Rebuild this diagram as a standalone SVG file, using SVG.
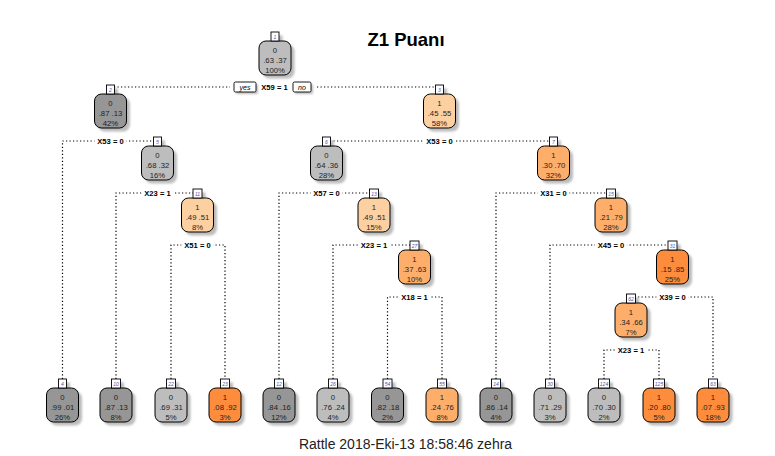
<svg xmlns="http://www.w3.org/2000/svg" width="775" height="456" viewBox="0 0 775 456">
<defs>
<filter id="blur" x="-20%" y="-20%" width="140%" height="140%"><feGaussianBlur stdDeviation="0.8"/></filter>
</defs>
<style>
text{font-family:"Liberation Sans",Arial,sans-serif}
.ln{fill:none;stroke:#000;stroke-width:1.2;stroke-dasharray:1.2 2.3}
.sh{fill:#bcbcbc;filter:url(#blur)}
.bd{stroke:#000;stroke-width:1}
.g1{fill:#969696}.g2{fill:#bdbdbd}.o1{fill:#fdd0a2}.o2{fill:#fdae6b}.o3{fill:#fd8d3c}
.lb{fill:#fff;stroke:#000;stroke-width:0.9}
.t{font-size:7.7px;fill:#1e1e1e;text-anchor:middle}
.n{font-size:5px;fill:#5050b0;text-anchor:middle;font-style:italic}
.sp{font-size:7.6px;font-weight:bold;fill:#000;text-anchor:middle}
.wb{fill:#fff}
.yn{font-size:7px;font-style:italic;fill:#000;text-anchor:middle}
</style>
<rect width="775" height="456" fill="#fff"/>
<text x="406" y="46" font-size="18.5" font-weight="bold" text-anchor="middle" fill="#000">Z1 Puanı</text>
<text x="405.5" y="449" font-size="14" text-anchor="middle" fill="#222">Rattle 2018-Eki-13 18:58:46 zehra</text>

<g id="connectors">
<path class="ln" d="M110.5 87H439.5"/>
<path class="ln" d="M62.5 379V141H157.5"/>
<path class="ln" d="M116 379V193H197.5"/>
<path class="ln" d="M171 379V245H225V379"/>
<path class="ln" d="M326.5 141H553.5"/>
<path class="ln" d="M279 379V193H374"/>
<path class="ln" d="M333 379V245H414.5"/>
<path class="ln" d="M387.5 379V297H442V379"/>
<path class="ln" d="M496 379V193H611"/>
<path class="ln" d="M550 379V245H672.5"/>
<path class="ln" d="M631 297H713V379"/>
<path class="ln" d="M604 379V350H659V379"/>
<g id="split-labels">
<rect class="wb" x="230" y="81" width="85" height="12"/>
<rect class="sh" x="236" y="84" width="22" height="10" rx="1.5"/>
<rect class="lb" x="234" y="82" width="22" height="10" rx="1.5"/>
<text class="yn" x="245" y="89.7">yes</text>
<text class="sp" x="274.5" y="90">X59 = 1</text>
<rect class="sh" x="295" y="84" width="18" height="10" rx="1.5"/>
<rect class="lb" x="293" y="82" width="18" height="10" rx="1.5"/>
<text class="yn" x="302" y="89.7">no</text>
<rect class="wb" x="94.5" y="137" width="32" height="8"/><text class="sp" x="110.5" y="144">X53 = 0</text>
<rect class="wb" x="141.5" y="189" width="32" height="8"/><text class="sp" x="157.5" y="196">X23 = 1</text>
<rect class="wb" x="181.5" y="241" width="32" height="8"/><text class="sp" x="197.5" y="248">X51 = 0</text>
<rect class="wb" x="423.5" y="137" width="32" height="8"/><text class="sp" x="439.5" y="144">X53 = 0</text>
<rect class="wb" x="310.5" y="189" width="32" height="8"/><text class="sp" x="326.5" y="196">X57 = 0</text>
<rect class="wb" x="358" y="241" width="32" height="8"/><text class="sp" x="374" y="248">X23 = 1</text>
<rect class="wb" x="398.5" y="293" width="32" height="8"/><text class="sp" x="414.5" y="300">X18 = 1</text>
<rect class="wb" x="537.5" y="189" width="32" height="8"/><text class="sp" x="553.5" y="196">X31 = 0</text>
<rect class="wb" x="595" y="241" width="32" height="8"/><text class="sp" x="611" y="248">X45 = 0</text>
<rect class="wb" x="656.5" y="293" width="32" height="8"/><text class="sp" x="672.5" y="300">X39 = 0</text>
<rect class="wb" x="615" y="346" width="32" height="8"/><text class="sp" x="631" y="353">X23 = 1</text>
</g>
</g>

<g id="node1"><rect class="sh" x="262.5" y="44.5" width="32" height="34" rx="7"/><rect class="sh" x="274.5" y="35.5" width="8" height="9"/><rect class="bd g2" x="259" y="41" width="32" height="34" rx="7"/><rect class="lb" x="271" y="32" width="8" height="9"/><text class="n" x="275" y="38.8">1</text><text class="t" x="275" y="52.5">0</text><text class="t" x="275" y="62.5">.63 .37</text><text class="t" x="275" y="72.5">100%</text></g>
<g id="node2"><rect class="sh" x="98" y="97.5" width="32" height="34" rx="7"/><rect class="sh" x="110" y="88.5" width="8" height="9"/><rect class="bd g1" x="94.5" y="94" width="32" height="34" rx="7"/><rect class="lb" x="106.5" y="85" width="8" height="9"/><text class="n" x="110.5" y="91.8">2</text><text class="t" x="110.5" y="105.5">0</text><text class="t" x="110.5" y="115.5">.87 .13</text><text class="t" x="110.5" y="125.5">42%</text></g>
<g id="node3"><rect class="sh" x="427" y="97.5" width="32" height="34" rx="7"/><rect class="sh" x="439" y="88.5" width="8" height="9"/><rect class="bd o1" x="423.5" y="94" width="32" height="34" rx="7"/><rect class="lb" x="435.5" y="85" width="8" height="9"/><text class="n" x="439.5" y="91.8">3</text><text class="t" x="439.5" y="105.5">1</text><text class="t" x="439.5" y="115.5">.45 .55</text><text class="t" x="439.5" y="125.5">58%</text></g>
<g id="node5"><rect class="sh" x="145" y="149.5" width="32" height="34" rx="7"/><rect class="sh" x="157" y="140.5" width="8" height="9"/><rect class="bd g2" x="141.5" y="146" width="32" height="34" rx="7"/><rect class="lb" x="153.5" y="137" width="8" height="9"/><text class="n" x="157.5" y="143.8">5</text><text class="t" x="157.5" y="157.5">0</text><text class="t" x="157.5" y="167.5">.68 .32</text><text class="t" x="157.5" y="177.5">16%</text></g>
<g id="node6"><rect class="sh" x="314" y="149.5" width="32" height="34" rx="7"/><rect class="sh" x="326" y="140.5" width="8" height="9"/><rect class="bd g2" x="310.5" y="146" width="32" height="34" rx="7"/><rect class="lb" x="322.5" y="137" width="8" height="9"/><text class="n" x="326.5" y="143.8">6</text><text class="t" x="326.5" y="157.5">0</text><text class="t" x="326.5" y="167.5">.64 .36</text><text class="t" x="326.5" y="177.5">28%</text></g>
<g id="node7"><rect class="sh" x="541" y="149.5" width="32" height="34" rx="7"/><rect class="sh" x="553" y="140.5" width="8" height="9"/><rect class="bd o2" x="537.5" y="146" width="32" height="34" rx="7"/><rect class="lb" x="549.5" y="137" width="8" height="9"/><text class="n" x="553.5" y="143.8">7</text><text class="t" x="553.5" y="157.5">1</text><text class="t" x="553.5" y="167.5">.30 .70</text><text class="t" x="553.5" y="177.5">32%</text></g>
<g id="node11"><rect class="sh" x="185" y="201.5" width="32" height="34" rx="7"/><rect class="sh" x="196.5" y="192.5" width="9" height="9"/><rect class="bd o1" x="181.5" y="198" width="32" height="34" rx="7"/><rect class="lb" x="193" y="189" width="9" height="9"/><text class="n" x="197.5" y="195.8">11</text><text class="t" x="197.5" y="209.5">1</text><text class="t" x="197.5" y="219.5">.49 .51</text><text class="t" x="197.5" y="229.5">8%</text></g>
<g id="node13"><rect class="sh" x="361.5" y="201.5" width="32" height="34" rx="7"/><rect class="sh" x="373" y="192.5" width="9" height="9"/><rect class="bd o1" x="358" y="198" width="32" height="34" rx="7"/><rect class="lb" x="369.5" y="189" width="9" height="9"/><text class="n" x="374" y="195.8">13</text><text class="t" x="374" y="209.5">1</text><text class="t" x="374" y="219.5">.49 .51</text><text class="t" x="374" y="229.5">15%</text></g>
<g id="node15"><rect class="sh" x="598.5" y="201.5" width="32" height="34" rx="7"/><rect class="sh" x="610" y="192.5" width="9" height="9"/><rect class="bd o2" x="595" y="198" width="32" height="34" rx="7"/><rect class="lb" x="606.5" y="189" width="9" height="9"/><text class="n" x="611" y="195.8">15</text><text class="t" x="611" y="209.5">1</text><text class="t" x="611" y="219.5">.21 .79</text><text class="t" x="611" y="229.5">28%</text></g>
<g id="node27"><rect class="sh" x="402" y="253.5" width="32" height="34" rx="7"/><rect class="sh" x="413.5" y="244.5" width="9" height="9"/><rect class="bd o2" x="398.5" y="250" width="32" height="34" rx="7"/><rect class="lb" x="410" y="241" width="9" height="9"/><text class="n" x="414.5" y="247.8">27</text><text class="t" x="414.5" y="261.5">1</text><text class="t" x="414.5" y="271.5">.37 .63</text><text class="t" x="414.5" y="281.5">10%</text></g>
<g id="node31"><rect class="sh" x="660" y="253.5" width="32" height="34" rx="7"/><rect class="sh" x="671.5" y="244.5" width="9" height="9"/><rect class="bd o3" x="656.5" y="250" width="32" height="34" rx="7"/><rect class="lb" x="668" y="241" width="9" height="9"/><text class="n" x="672.5" y="247.8">31</text><text class="t" x="672.5" y="261.5">1</text><text class="t" x="672.5" y="271.5">.15 .85</text><text class="t" x="672.5" y="281.5">25%</text></g>
<g id="node62"><rect class="sh" x="618.5" y="306.5" width="32" height="34" rx="7"/><rect class="sh" x="630" y="297.5" width="9" height="9"/><rect class="bd o2" x="615" y="303" width="32" height="34" rx="7"/><rect class="lb" x="626.5" y="294" width="9" height="9"/><text class="n" x="631" y="300.8">62</text><text class="t" x="631" y="314.5">1</text><text class="t" x="631" y="324.5">.34 .66</text><text class="t" x="631" y="334.5">7%</text></g>

<g id="leaf4"><rect class="sh" x="50" y="391.5" width="32" height="34" rx="7"/><rect class="sh" x="62" y="382.5" width="8" height="9"/><rect class="bd g1" x="46.5" y="388" width="32" height="34" rx="7"/><rect class="lb" x="58.5" y="379" width="8" height="9"/><text class="n" x="62.5" y="385.8">4</text><text class="t" x="62.5" y="399.5">0</text><text class="t" x="62.5" y="409.5">.99 .01</text><text class="t" x="62.5" y="419.5">26%</text></g>
<g id="leaf10"><rect class="sh" x="103.5" y="391.5" width="32" height="34" rx="7"/><rect class="sh" x="115" y="382.5" width="9" height="9"/><rect class="bd g1" x="100" y="388" width="32" height="34" rx="7"/><rect class="lb" x="111.5" y="379" width="9" height="9"/><text class="n" x="116" y="385.8">10</text><text class="t" x="116" y="399.5">0</text><text class="t" x="116" y="409.5">.87 .13</text><text class="t" x="116" y="419.5">8%</text></g>
<g id="leaf22"><rect class="sh" x="158.5" y="391.5" width="32" height="34" rx="7"/><rect class="sh" x="170" y="382.5" width="9" height="9"/><rect class="bd g2" x="155" y="388" width="32" height="34" rx="7"/><rect class="lb" x="166.5" y="379" width="9" height="9"/><text class="n" x="171" y="385.8">22</text><text class="t" x="171" y="399.5">0</text><text class="t" x="171" y="409.5">.69 .31</text><text class="t" x="171" y="419.5">5%</text></g>
<g id="leaf23"><rect class="sh" x="212.5" y="391.5" width="32" height="34" rx="7"/><rect class="sh" x="224" y="382.5" width="9" height="9"/><rect class="bd o3" x="209" y="388" width="32" height="34" rx="7"/><rect class="lb" x="220.5" y="379" width="9" height="9"/><text class="n" x="225" y="385.8">23</text><text class="t" x="225" y="399.5">1</text><text class="t" x="225" y="409.5">.08 .92</text><text class="t" x="225" y="419.5">3%</text></g>
<g id="leaf12"><rect class="sh" x="266.5" y="391.5" width="32" height="34" rx="7"/><rect class="sh" x="278" y="382.5" width="9" height="9"/><rect class="bd g1" x="263" y="388" width="32" height="34" rx="7"/><rect class="lb" x="274.5" y="379" width="9" height="9"/><text class="n" x="279" y="385.8">12</text><text class="t" x="279" y="399.5">0</text><text class="t" x="279" y="409.5">.84 .16</text><text class="t" x="279" y="419.5">12%</text></g>
<g id="leaf26"><rect class="sh" x="320.5" y="391.5" width="32" height="34" rx="7"/><rect class="sh" x="332" y="382.5" width="9" height="9"/><rect class="bd g2" x="317" y="388" width="32" height="34" rx="7"/><rect class="lb" x="328.5" y="379" width="9" height="9"/><text class="n" x="333" y="385.8">26</text><text class="t" x="333" y="399.5">0</text><text class="t" x="333" y="409.5">.76 .24</text><text class="t" x="333" y="419.5">4%</text></g>
<g id="leaf54"><rect class="sh" x="375" y="391.5" width="32" height="34" rx="7"/><rect class="sh" x="386.5" y="382.5" width="9" height="9"/><rect class="bd g1" x="371.5" y="388" width="32" height="34" rx="7"/><rect class="lb" x="383" y="379" width="9" height="9"/><text class="n" x="387.5" y="385.8">54</text><text class="t" x="387.5" y="399.5">0</text><text class="t" x="387.5" y="409.5">.82 .18</text><text class="t" x="387.5" y="419.5">2%</text></g>
<g id="leaf55"><rect class="sh" x="429.5" y="391.5" width="32" height="34" rx="7"/><rect class="sh" x="441" y="382.5" width="9" height="9"/><rect class="bd o2" x="426" y="388" width="32" height="34" rx="7"/><rect class="lb" x="437.5" y="379" width="9" height="9"/><text class="n" x="442" y="385.8">55</text><text class="t" x="442" y="399.5">1</text><text class="t" x="442" y="409.5">.24 .76</text><text class="t" x="442" y="419.5">8%</text></g>
<g id="leaf14"><rect class="sh" x="483.5" y="391.5" width="32" height="34" rx="7"/><rect class="sh" x="495" y="382.5" width="9" height="9"/><rect class="bd g1" x="480" y="388" width="32" height="34" rx="7"/><rect class="lb" x="491.5" y="379" width="9" height="9"/><text class="n" x="496" y="385.8">14</text><text class="t" x="496" y="399.5">0</text><text class="t" x="496" y="409.5">.86 .14</text><text class="t" x="496" y="419.5">4%</text></g>
<g id="leaf30"><rect class="sh" x="537.5" y="391.5" width="32" height="34" rx="7"/><rect class="sh" x="549" y="382.5" width="9" height="9"/><rect class="bd g2" x="534" y="388" width="32" height="34" rx="7"/><rect class="lb" x="545.5" y="379" width="9" height="9"/><text class="n" x="550" y="385.8">30</text><text class="t" x="550" y="399.5">0</text><text class="t" x="550" y="409.5">.71 .29</text><text class="t" x="550" y="419.5">3%</text></g>
<g id="leaf124"><rect class="sh" x="591.5" y="391.5" width="32" height="34" rx="7"/><rect class="sh" x="602" y="382.5" width="11" height="9"/><rect class="bd g2" x="588" y="388" width="32" height="34" rx="7"/><rect class="lb" x="598.5" y="379" width="11" height="9"/><text class="n" x="604" y="385.8">124</text><text class="t" x="604" y="399.5">0</text><text class="t" x="604" y="409.5">.70 .30</text><text class="t" x="604" y="419.5">2%</text></g>
<g id="leaf125"><rect class="sh" x="646.5" y="391.5" width="32" height="34" rx="7"/><rect class="sh" x="657" y="382.5" width="11" height="9"/><rect class="bd o3" x="643" y="388" width="32" height="34" rx="7"/><rect class="lb" x="653.5" y="379" width="11" height="9"/><text class="n" x="659" y="385.8">125</text><text class="t" x="659" y="399.5">1</text><text class="t" x="659" y="409.5">.20 .80</text><text class="t" x="659" y="419.5">5%</text></g>
<g id="leaf63"><rect class="sh" x="700.5" y="391.5" width="32" height="34" rx="7"/><rect class="sh" x="712" y="382.5" width="9" height="9"/><rect class="bd o3" x="697" y="388" width="32" height="34" rx="7"/><rect class="lb" x="708.5" y="379" width="9" height="9"/><text class="n" x="713" y="385.8">63</text><text class="t" x="713" y="399.5">1</text><text class="t" x="713" y="409.5">.07 .93</text><text class="t" x="713" y="419.5">18%</text></g>
</svg>
